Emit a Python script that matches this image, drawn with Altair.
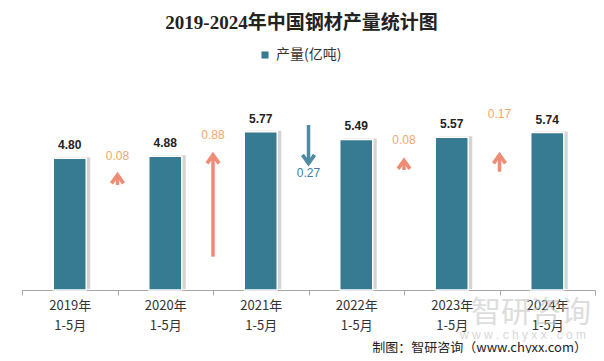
import altair as alt
import pandas as pd

title_text = "2019-2024年中国钢材产量统计图"
series_name = "产量(亿吨)"
years = ["2019年", "2020年", "2021年", "2022年", "2023年", "2024年"]
period = "1-5月"
output = [4.80, 4.88, 5.77, 5.49, 5.57, 5.74]

change_values = [0.08, 0.88, -0.27, 0.08, 0.17]
arrow_start = [0.875, 0.278, 1.375, 1.0, 0.986]
arrow_end = [0.986, 1.153, 1.028, 1.106, 1.153]
label_level = [1.117, 1.29, 0.977, 1.25, 1.467]

source_text = "制图：智研咨询（www.chyxx.com）"
watermark = "智研咨询"
watermark_url = "w w w . c h y x x . c o m"

cats = [y + period for y in years]
bars_df = pd.DataFrame({"cat": cats, "value": output, "series": series_name})
arrows_df = pd.DataFrame({
    "cat": cats[:-1],
    "change": change_values,
    "start": arrow_start,
    "end": arrow_end,
    "lab": label_level,
    "txt": [f"{abs(v):.2f}" for v in change_values],
    "dir": ["up" if v > 0 else "down" for v in change_values],
})

BAR = "#377B93"
UP = "#EE8C76"
UP_TXT = "#F4A66A"
DOWN = "#4E8AA3"
DOWN_TXT = "#3C7DA8"
CJK = "Noto Sans CJK SC"

x_axis = alt.Axis(
    title=None, labelAngle=0, tickBand="extent",
    labelExpr="datum.value ? [substring(datum.value,0,5), substring(datum.value,5)] : ''",
    domainColor="#a6a6a6", tickColor="#a6a6a6", tickSize=5,
    labelFontSize=13, labelColor="#333333", labelLineHeight=20,
    labelPadding=4, labelFont=CJK, grid=False,
)
x_scale = alt.Scale(paddingInner=0, paddingOuter=0)
x_bar = alt.X("cat:N", sort=cats, scale=x_scale, axis=x_axis)
y_bar = alt.Y("value:Q", scale=alt.Scale(domain=[0, 7]), axis=None)

base = alt.Chart(bars_df)
shadow = base.mark_bar(size=33, color="#a0a0a0", opacity=0.45, xOffset=4, yOffset=-1).encode(x=x_bar, y=y_bar)
bars = base.mark_bar(size=33, stroke="white", strokeWidth=1.5).encode(
    x=x_bar, y=y_bar,
    color=alt.Color("series:N", scale=alt.Scale(range=[BAR]), legend=alt.Legend(
        title=None, orient="none", legendX=236, legendY=-50, symbolType="square",
        symbolSize=50, labelFontSize=14, labelFont=CJK, labelColor="#333333",
        padding=0, symbolStrokeWidth=0,
    )),
)
vlabels = base.mark_text(dy=-13, fontWeight="bold", fontSize=12, color="#222222", font="Liberation Sans").encode(
    x=x_bar, y=y_bar, text=alt.Text("value:Q", format=".2f")
)

x_arr = alt.X("cat:N", sort=cats, bandPosition=1, scale=x_scale, axis=x_axis)
ysc = alt.Scale(domain=[0, 1.6])
arr = alt.Chart(arrows_df)
up = arr.transform_filter("datum.dir == 'up'")
down = arr.transform_filter("datum.dir == 'down'")

up_path = "M0,-0.85L1,0.55L0.6,0.85L0,0L-0.6,0.85L-1,0.55Z"
down_path = "M0,0.85L1,-0.55L0.6,-0.85L0,0L-0.6,-0.85L-1,-0.55Z"

up_shaft = up.mark_rule(color=UP, strokeWidth=3.5, y2Offset=6).encode(
    x=x_arr, y=alt.Y("start:Q", scale=ysc, axis=None), y2="end:Q")
up_head = up.mark_point(shape=up_path, filled=True, size=225, color=UP, opacity=1, yOffset=6.4).encode(
    x=x_arr, y=alt.Y("end:Q", scale=ysc, axis=None))
down_shaft = down.mark_rule(color=DOWN, strokeWidth=3.5, y2Offset=-6).encode(
    x=x_arr, y=alt.Y("start:Q", scale=ysc, axis=None), y2="end:Q")
down_head = down.mark_point(shape=down_path, filled=True, size=225, color=DOWN, opacity=1, yOffset=-6.4).encode(
    x=x_arr, y=alt.Y("end:Q", scale=ysc, axis=None))
up_lab = up.mark_text(fontSize=12, color=UP_TXT, font="Liberation Sans").encode(
    x=x_arr, y=alt.Y("lab:Q", scale=ysc, axis=None), text="txt:N")
down_lab = down.mark_text(fontSize=12, color=DOWN_TXT, font="Liberation Sans").encode(
    x=x_arr, y=alt.Y("lab:Q", scale=ysc, axis=None), text="txt:N")

def note(text, x, y, **kw):
    return alt.Chart(pd.DataFrame({"t": [text]})).mark_text(**kw).encode(
        x=alt.value(x), y=alt.value(y), text="t:N")

title = note(title_text, 279.5, -75, fontSize=19, fontWeight="bold", color="#222222",
             font="Liberation Serif, " + CJK)
wm1 = note(watermark, 509, 215, fontSize=30, color="#c8c8c8", opacity=0.6, font=CJK)
wm2 = note(watermark_url, 501, 237, fontSize=12, color="#c8c8c8", opacity=0.7, font="Liberation Sans")
footer = note(source_text, 565, 250, fontSize=13, color="#222222", font=CJK, align="right")

chart = alt.layer(
    shadow, bars, vlabels, up_shaft, up_head, down_shaft, down_head, up_lab, down_lab,
    title, wm1, wm2, footer,
).resolve_scale(y="independent").properties(
    width=573, height=192,
    autosize=alt.AutoSizeParams(type="none"),
    padding={"left": 14, "top": 90, "right": 1, "bottom": 63},
    background="white",
).configure_view(stroke=None)

chart.save("out.html", embed_options={"renderer": "svg", "actions": False})
